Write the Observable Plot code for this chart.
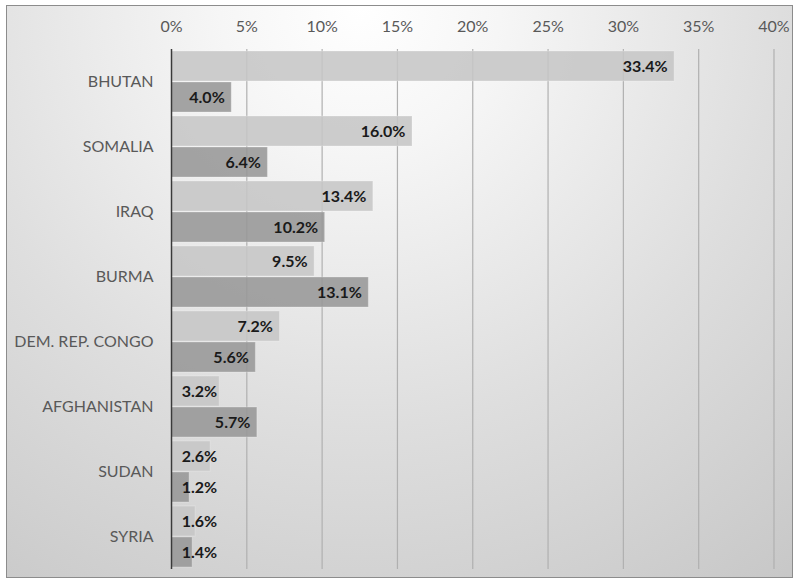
<!DOCTYPE html>
<html>
<head>
<meta charset="utf-8">
<script src="https://cdn.jsdelivr.net/npm/d3@7"></script>
<script src="https://cdn.jsdelivr.net/npm/@observablehq/plot@0.6"></script>
<style>
  html, body { margin: 0; padding: 0; background: #fff; }
  #wrap { position: relative; width: 795px; height: 580px; overflow: hidden; }
  #bg {
    position: absolute; left: 6px; top: 5px; width: 785px; height: 571px;
    border: 1px solid #8c8c8c;
    background: radial-gradient(circle at 45% 0%, #ffffff 0px, #f6f6f6 140px, #dedede 420px, #c4c4c4 760px);
  }
  #chart { position: absolute; left: 0; top: 0; }
</style>
</head>
<body>
<div id="wrap"><div id="bg"></div><div id="chart"></div></div>
<script>
const countries = ["BHUTAN", "SOMALIA", "IRAQ", "BURMA", "DEM. REP. CONGO", "AFGHANISTAN", "SUDAN", "SYRIA"];
const seriesLight = [33.4, 16.0, 13.4, 9.5, 7.2, 3.2, 2.6, 1.6];
const seriesDark = [4.0, 6.4, 10.2, 13.1, 5.6, 5.7, 1.2, 1.4];
const xTicks = [0, 5, 10, 15, 20, 25, 30, 35, 40];
const seriesKeys = ["light", "dark"];
const seriesColors = ["#c6c6c6", "#979797"];

const rows = [];
countries.forEach((c, i) => {
  rows.push({country: c, series: "light", value: seriesLight[i]});
  rows.push({country: c, series: "dark", value: seriesDark[i]});
});

const minLabelPos = 3.5;

const chart = Plot.plot({
  width: 795,
  height: 580,
  marginLeft: 171,
  marginRight: 21.5,
  marginTop: 48,
  marginBottom: 10,
  style: {background: "transparent", fontFamily: "Lato, 'Open Sans', sans-serif", fontSize: "16px", color: "#595959"},
  x: {domain: [0, 40], axis: "top", ticks: xTicks, tickFormat: d => d + "%", tickSize: 0, tickPadding: 18, label: null},
  y: {domain: seriesKeys, axis: null, paddingInner: 0.03, paddingOuter: 0.04},
  fy: {domain: countries, axis: "left", tickSize: 0, tickPadding: 18, label: null, padding: 0},
  color: {domain: seriesKeys, range: seriesColors},
  marks: [
    Plot.ruleX(xTicks.filter(d => d > 0), {stroke: "#b0b0b0", strokeWidth: 1.2}),
    Plot.barX(rows, {x: "value", y: "series", fy: "country", fill: "series", fillOpacity: 0.88, stroke: "#ffffff", strokeOpacity: 0.25, strokeWidth: 1}),
    Plot.ruleX([0], {stroke: "#3a3a3a", strokeWidth: 1.5}),
    Plot.text(rows, {
      x: d => Math.max(d.value, minLabelPos),
      y: "series", fy: "country",
      text: d => d.value.toFixed(1) + "%",
      textAnchor: "end", dx: -7,
      fill: "#1a1a1a", fontWeight: "bold", fontSize: 16
    })
  ]
});
document.getElementById("chart").appendChild(chart);
</script>
</body>
</html>
